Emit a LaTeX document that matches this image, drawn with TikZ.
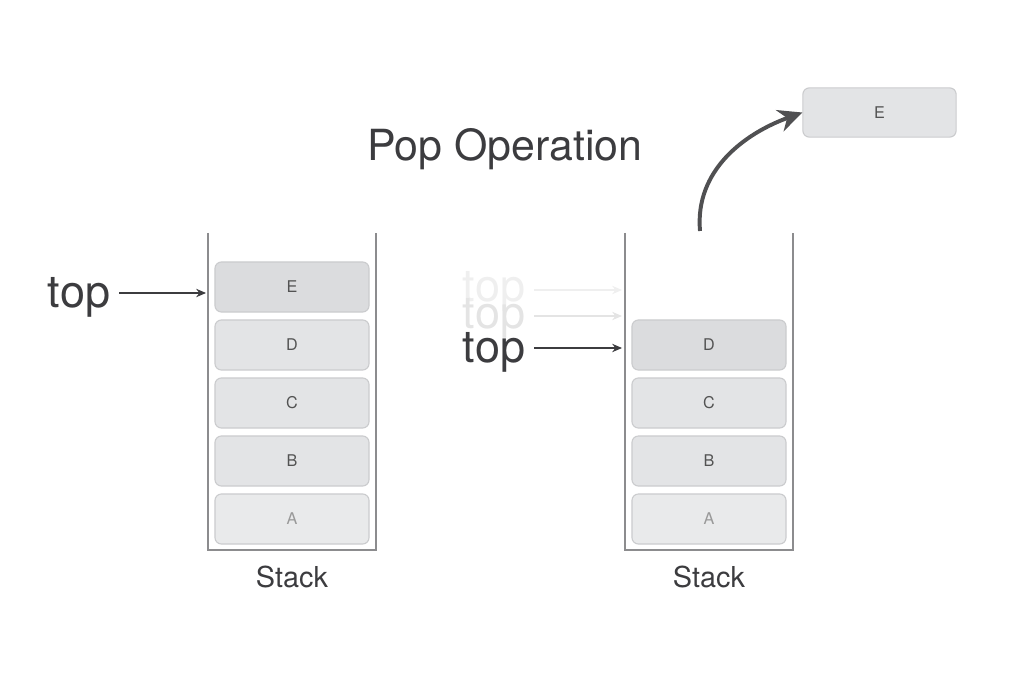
\documentclass[tikz,border=0pt]{standalone}
\usepackage{fontspec}
\setmainfont{TeX Gyre Heros}
\usetikzlibrary{arrows.meta}

\definecolor{inkgray}{HTML}{3C3C3F}
\definecolor{wallgray}{HTML}{8C8C8E}
\definecolor{cellfill}{HTML}{E3E4E6}
\definecolor{topfill}{HTML}{DBDCDE}
\definecolor{lowfill}{HTML}{E9EAEB}
\definecolor{celledge}{HTML}{CBCCCE}
\definecolor{fadegray}{HTML}{EFEFEF}

\tikzset{
  cell/.style={draw=celledge, fill=cellfill, rounded corners=0.16cm,
    line width=0.8pt, minimum width=3.85cm, minimum height=1.25cm,
    inner sep=0pt, font=\fontsize{11.5}{13}\selectfont, text=gray!65!black},
  wall/.style={draw=wallgray, line width=1.3pt},
  toplabel/.style={font=\fontsize{32}{36}\selectfont, text=inkgray, anchor=east},
  pointer/.style={draw=inkgray, line width=0.9pt, -{Stealth[length=7pt,width=6pt]}},
  caption/.style={font=\fontsize{20.5}{24}\selectfont, text=inkgray}
}

\begin{document}
\begin{tikzpicture}[x=0.025cm, y=-0.025cm]
  \useasboundingbox (0,0) rectangle (1010,674);

  % Title
  \node[font=\fontsize{30.5}{36}\selectfont, text=inkgray] (title) at (505,149) {Pop Operation};

  % Draw the left stack
  \draw[wall] (208,233) -- (208,550) -- (376,550) -- (376,233);
  \node[cell, fill=topfill] (eL) at (292,287) {E};
  \node[cell] (dL) at (292,345) {D};
  \node[cell] (cL) at (292,403) {C};
  \node[cell] (bL) at (292,461) {B};
  \node[cell, fill=lowfill, text=gray!80] (aL) at (292,519) {A};
  \node[caption] (stackL) at (292,577) {Stack};

  % Pointer of the left stack
  \node[toplabel] (topL) at (115,297) {top};
  \coordinate (tipL) at (206,293);
  \draw[pointer] (topL.east) ++(4,-4) -- (tipL);

  % Draw the right stack
  \draw[wall] (625,233) -- (625,550) -- (793,550) -- (793,233);
  \node[cell, fill=topfill] (dR) at (709,345) {D};
  \node[cell] (cR) at (709,403) {C};
  \node[cell] (bR) at (709,461) {B};
  \node[cell, fill=lowfill, text=gray!80] (aR) at (709,519) {A};
  \node[caption] (stackR) at (709,577) {Stack};

  % Old pointers, faded out
  \node[toplabel, text=fadegray] (topOne) at (530,291) {top};
  \coordinate (tipOne) at (622,290);
  \draw[pointer, draw=fadegray] (topOne.east) ++(4,-1) -- (tipOne);
  \node[toplabel, text=fadegray!90!gray] (topTwo) at (530,318) {top};
  \coordinate (tipTwo) at (622,316);
  \draw[pointer, draw=fadegray!90!gray] (topTwo.east) ++(4,-2) -- (tipTwo);

  % Current pointer
  \node[toplabel] (topR) at (530,352) {top};
  \coordinate (tipR) at (622,348);
  \draw[pointer] (topR.east) ++(4,-4) -- (tipR);

  % Popped element
  \node[cell, minimum width=3.83cm, minimum height=1.23cm] (eOut) at (879.5,112.5) {E};
  \coordinate (popStart) at (700,231);
  \draw[draw=inkgray!90, line width=2.8pt, -{Stealth[length=17pt,width=16pt]}]
    (popStart) to[out=95, in=200] (eOut.west);

\end{tikzpicture}
\end{document}
